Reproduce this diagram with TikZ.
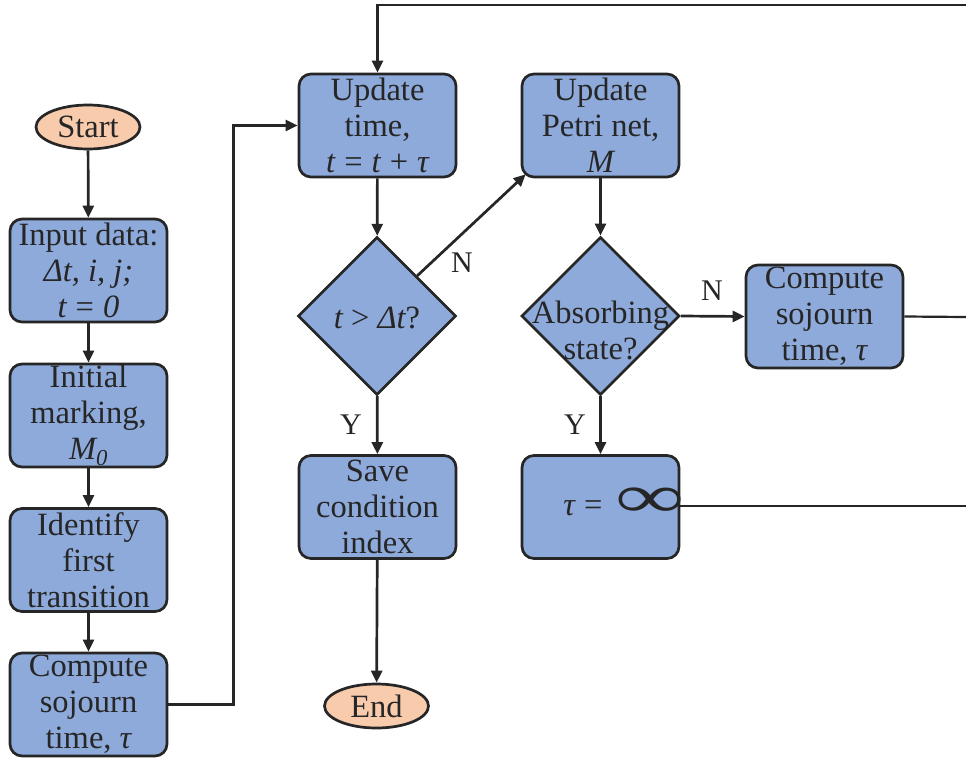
\documentclass[tikz,border=0pt]{standalone}
\usepackage{fontspec}
\setmainfont{Liberation Serif}
\usepackage{graphicx}
\usetikzlibrary{shapes.geometric,arrows.meta,calc}
\definecolor{boxblue}{HTML}{8EAADB}
\definecolor{termfill}{HTML}{F8CBAD}
\definecolor{ink}{HTML}{262626}
\newcommand{\gapsp}{\hspace{0.28em}}
\begin{document}
\begin{tikzpicture}[x=1pt,y=-1pt,
  txt/.style={text=ink,font=\fontsize{32.5}{36}\selectfont},
  proc/.style={txt,draw=ink,line width=2.7pt,fill=boxblue,rounded corners=12pt,
    minimum width=157pt,minimum height=103pt,align=center,inner sep=0pt},
  term/.style={txt,draw=ink,line width=2.7pt,fill=termfill,ellipse,
    minimum width=104pt,minimum height=44pt,inner sep=0pt},
  dec/.style={draw=ink,line width=2.7pt,fill=boxblue,diamond,
    minimum width=158pt,minimum height=158pt,inner sep=0pt},
  dtext/.style={txt,align=center,inner sep=0pt},
  arr/.style={draw=ink,line width=2.7pt,-{Triangle[length=12pt,width=11pt]}},
  ln/.style={draw=ink,line width=2.2pt},
  lab/.style={text=ink,font=\fontsize{30}{32}\selectfont,inner sep=0pt}
]
\useasboundingbox (0,0) rectangle (966,760);

% left column
\node[term] (start) at (88,127) {Start};
\node[proc] (input) at (88.5,270.5) {Input data:\\{\itshape Δt, i, j;}\\{\itshape t}\gapsp=\gapsp{\itshape 0}};
\node[proc] (init) at (88.5,415.5) {Initial\\marking,\\{\itshape M}\textsubscript{\itshape 0}};
\node[proc] (ident) at (88.5,560) {Identify\\first\\transition};
\node[proc] (cs1) at (88.5,704.5) {Compute\\sojourn\\time, {\itshape τ}};

% middle column
\node[proc] (ut) at (377.5,125.5) {Update\\time,\\{\itshape t}\gapsp=\gapsp{\itshape t}\gapsp+\gapsp{\itshape τ}};
\node[dec] (d1) at (377,316) {};
\node[dtext] (d1t) at (377,318) {{\itshape t} > {\itshape Δt}?};
\node[proc] (save) at (377.5,507) {Save\\condition\\index};
\node[term] (end) at (376.5,706) {End};

% right column
\node[proc] (up) at (600.5,125.5) {Update\\Petri net,\\{\itshape M}};
\node[dec] (d2) at (600.5,316) {};
\node[dtext] (d2t) at (600.5,330) {Absorbing\\state?};
\node[proc] (cs2) at (824.5,316.5) {Compute\\sojourn\\time, {\itshape τ}};
\node[proc] (tinf) at (600.5,507) {};
\node[txt,inner sep=0pt] (tau) at (583,508) {{\itshape τ}\gapsp=};
\node[txt,inner sep=0pt] (inf) at (650,503) {\bfseries\scalebox{2.9}[1.9]{∞}};

% free ends on the right edge
\coordinate (e0) at (966,5);
\coordinate (e1) at (966,317);
\coordinate (e2) at (966,506);

% connectors
\draw[arr] (start) -- (input);
\draw[arr] (input) -- (init);
\draw[arr] (init) -- (ident);
\draw[arr] (ident) -- (cs1);
\draw[arr] (cs1.east) -- ++(65,0) |- (ut.west);
\draw[arr] (e0) -| (ut.north);
\draw[arr] (ut) -- (d1);
\draw[arr] (d1.north east) -- ($(up.south west)+(5,-4)$);
\draw[arr] (d1) -- (save);
\draw[arr] (save) -- (end);
\draw[arr] (up) -- (d2);
\draw[arr] (d2.east) -- (cs2.west);
\draw[arr] (d2) -- (tinf);
\draw[ln] (cs2.east) -- (e1);
\draw[ln] (tinf.east |- e2) -- (e2);

% labels
\node[lab] (n1) at (462,263) {N};
\node[lab] (n2) at (712,291) {N};
\node[lab] (y1) at (351,425) {Y};
\node[lab] (y2) at (575,425) {Y};
\end{tikzpicture}
\end{document}
